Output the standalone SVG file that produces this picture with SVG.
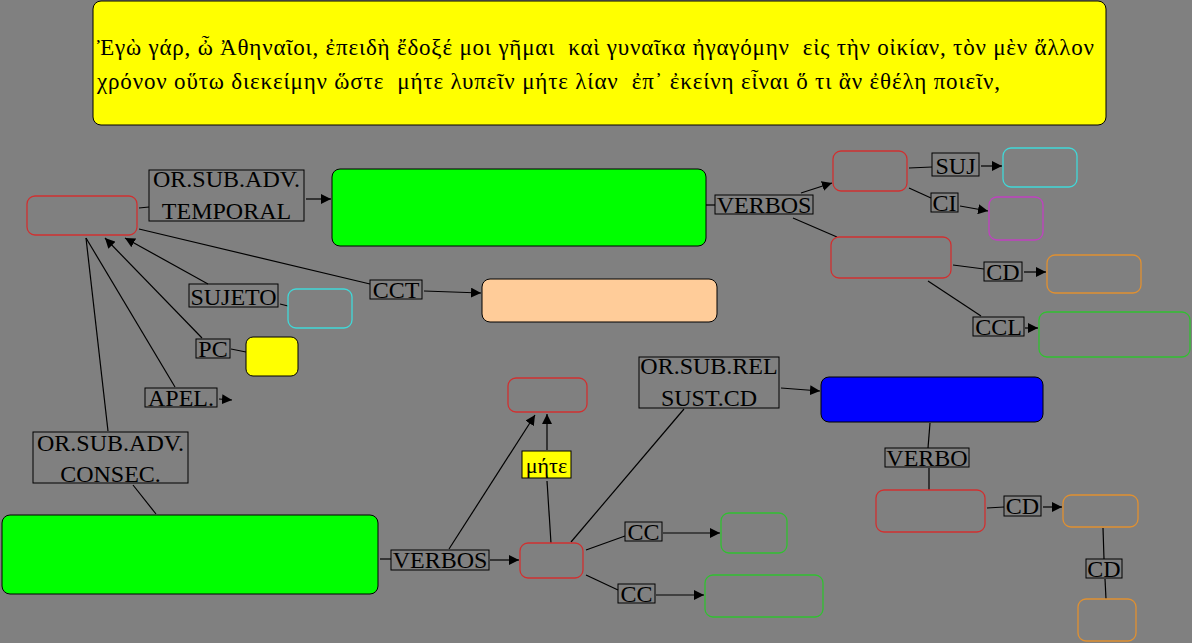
<svg xmlns="http://www.w3.org/2000/svg" width="1192" height="643" viewBox="0 0 1192 643">
<defs>
<marker id="ar" viewBox="0 0 10 10" refX="10" refY="5" markerWidth="10" markerHeight="10" markerUnits="userSpaceOnUse" orient="auto">
<path d="M0,0 L10,5 L0,10 z" fill="#000"/>
</marker>
<style>
.bg{fill:#808080}
.lbl rect{fill:none;stroke:#000;stroke-width:1}
.lbl text{font-family:"Liberation Serif","DejaVu Serif",serif;font-size:24px;fill:#000;text-anchor:middle}
.n{fill:none;stroke-width:1.3}
.red{stroke:#d03030}
.cyan{stroke:#40d8d8}
.mag{stroke:#c040c0}
.org{stroke:#e09030}
.grn{stroke:#30c030}
.solid{stroke:#000;stroke-width:1}
.c line,.c path{stroke:#000;stroke-width:1.2;fill:none}
.a{marker-end:url(#ar)}
.title{font-family:"Liberation Serif","DejaVu Serif",serif;font-size:23px;fill:#000;white-space:pre}
</style>
</defs>
<rect class="bg" x="0" y="0" width="1192" height="643"/>

<g id="title">
<rect x="93" y="1" width="1013" height="124" rx="8" fill="#ffff00" stroke="#000" stroke-width="1"/>
<text class="title" x="97" y="55" xml:space="preserve" textLength="997" lengthAdjust="spacing">Ἐγὼ γάρ, ὦ Ἀθηναῖοι, ἐπειδὴ ἔδοξέ μοι γῆμαι  καὶ γυναῖκα ἠγαγόμην  εἰς τὴν οἰκίαν, τὸν μὲν ἄλλον</text>
<text class="title" x="97" y="89" xml:space="preserve" textLength="903" lengthAdjust="spacing">χρόνον οὕτω διεκείμην ὥστε  μήτε λυπεῖν μήτε λίαν  ἐπ᾽ ἐκείνη εἶναι ὅ τι ἂν ἐθέλη ποιεῖν,</text>
</g>

<g class="c" id="connectors">
<line x1="139" y1="208" x2="149" y2="207"/>
<line class="a" x1="306" y1="199" x2="331" y2="199"/>
<line x1="706" y1="205" x2="715" y2="205"/>
<line class="a" x1="801" y1="193" x2="832" y2="183"/>
<line x1="909" y1="168" x2="932" y2="167"/>
<line class="a" x1="981" y1="166" x2="1002" y2="166"/>
<line x1="909" y1="188" x2="931" y2="198"/>
<line class="a" x1="960" y1="206" x2="988" y2="211"/>
<line x1="793" y1="218" x2="837" y2="237"/>
<line x1="953" y1="265" x2="984" y2="269"/>
<line class="a" x1="1024" y1="272" x2="1046" y2="272"/>
<line x1="928" y1="281" x2="981" y2="316"/>
<line class="a" x1="1025" y1="328" x2="1038" y2="328"/>
<line x1="139" y1="229" x2="370" y2="284"/>
<line class="a" x1="424" y1="291" x2="481" y2="293"/>
<line class="a" x1="208" y1="284" x2="125" y2="238"/>
<line x1="280" y1="304" x2="288" y2="306"/>
<line class="a" x1="202" y1="338" x2="105" y2="238"/>
<line x1="231" y1="349" x2="246" y2="352"/>
<line x1="175" y1="387" x2="86" y2="238"/>
<line class="a" x1="219" y1="399" x2="232" y2="400"/>
<line x1="86" y1="238" x2="108" y2="431"/>
<line x1="133" y1="485" x2="156" y2="514"/>
<line x1="380" y1="559" x2="391" y2="559"/>
<line class="a" x1="490" y1="560" x2="519" y2="560"/>
<line class="a" x1="449" y1="549" x2="535" y2="415"/>
<line class="a" x1="547" y1="450" x2="547" y2="414"/>
<line x1="551" y1="543" x2="547" y2="481"/>
<line x1="571" y1="542" x2="684" y2="409"/>
<line class="a" x1="781" y1="388" x2="820" y2="391"/>
<line x1="930" y1="423" x2="928" y2="448"/>
<line x1="929" y1="468" x2="929" y2="490"/>
<line x1="987" y1="508" x2="1004" y2="507"/>
<line class="a" x1="1043" y1="507" x2="1062" y2="507"/>
<line x1="1103" y1="528" x2="1104" y2="559"/>
<line x1="1105" y1="579" x2="1106" y2="599"/>
<line x1="586" y1="550" x2="625" y2="536"/>
<line class="a" x1="663" y1="533" x2="720" y2="533"/>
<line x1="586" y1="575" x2="618" y2="590"/>
<line class="a" x1="656" y1="595" x2="704" y2="595"/>
</g>

<g id="nodeA"><rect class="n red" x="27" y="196" width="110" height="39" rx="8"/></g>
<g id="lblTemporal" class="lbl"><rect x="149" y="170" width="155" height="51"/><text x="226.5" y="187">OR.SUB.ADV.</text><text x="226.5" y="219">TEMPORAL</text></g>
<g id="green1"><rect class="solid" x="332" y="169" width="374" height="77" rx="8" fill="#00ff00"/></g>
<g id="lblVerbos1" class="lbl"><rect x="715" y="195" width="98" height="19"/><text x="764" y="213">VERBOS</text></g>
<g id="nodeB"><rect class="n red" x="833" y="151" width="74" height="40" rx="8"/></g>
<g id="lblSuj" class="lbl"><rect x="932" y="153" width="47" height="23"/><text x="955.5" y="174">SUJ</text></g>
<g id="cyan1"><rect class="n cyan" x="1003" y="148" width="74" height="39" rx="8"/></g>
<g id="lblCI" class="lbl"><rect x="931" y="193" width="27" height="19"/><text x="944.5" y="211">CI</text></g>
<g id="mag1"><rect class="n mag" x="989" y="197" width="54" height="43" rx="8"/></g>
<g id="nodeC"><rect class="n red" x="831" y="237" width="120" height="41" rx="8"/></g>
<g id="lblCD1" class="lbl"><rect x="984" y="262" width="38" height="19"/><text x="1003" y="280">CD</text></g>
<g id="org1"><rect class="n org" x="1047" y="255" width="94" height="38" rx="8"/></g>
<g id="lblCCL" class="lbl"><rect x="973" y="317" width="51" height="19"/><text x="998.5" y="335">CCL</text></g>
<g id="grnO1"><rect class="n grn" x="1039" y="312" width="151" height="45" rx="8"/></g>
<g id="lblCCT" class="lbl"><rect x="370" y="280" width="52" height="19"/><text x="396" y="298">CCT</text></g>
<g id="peach"><rect class="solid" x="482" y="279" width="235" height="43" rx="8" fill="#ffcc99"/></g>
<g id="lblSujeto" class="lbl"><rect x="189" y="284" width="89" height="23"/><text x="233.5" y="305">SUJETO</text></g>
<g id="cyan2"><rect class="n cyan" x="288" y="289" width="64" height="39" rx="8"/></g>
<g id="lblPC" class="lbl"><rect x="196" y="339" width="34" height="19"/><text x="213" y="357">PC</text></g>
<g id="yellow1"><rect class="solid" x="246" y="337" width="52" height="39" rx="7" fill="#ffff00"/></g>
<g id="lblApel" class="lbl"><rect x="145" y="388" width="72" height="19"/><text x="181" y="406">APEL.</text></g>
<g id="lblConsec" class="lbl"><rect x="33" y="432" width="155" height="51"/><text x="110.5" y="451">OR.SUB.ADV.</text><text x="110.5" y="482">CONSEC.</text></g>
<g id="green2"><rect class="solid" x="2" y="515" width="376" height="79" rx="8" fill="#00ff00"/></g>
<g id="lblVerbos2" class="lbl"><rect x="391" y="550" width="98" height="20"/><text x="440" y="568">VERBOS</text></g>
<g id="nodeD"><rect class="n red" x="520" y="543" width="63" height="35" rx="8"/></g>
<g id="nodeE"><rect class="n red" x="508" y="378" width="79" height="34" rx="8"/></g>
<g id="lblMete" class="lbl"><rect x="522" y="451" width="49" height="27" style="fill:#ffff00"/><text x="546.5" y="473" style="font-size:22px">μήτε</text></g>
<g id="lblRel" class="lbl"><rect x="639" y="357" width="140" height="51"/><text x="709" y="374">OR.SUB.REL</text><text x="709" y="406">SUST.CD</text></g>
<g id="blue1"><rect class="solid" x="821" y="377" width="222" height="45" rx="8" fill="#0000ff"/></g>
<g id="lblVerbo" class="lbl"><rect x="885" y="448" width="84" height="19"/><text x="927" y="466">VERBO</text></g>
<g id="nodeF"><rect class="n red" x="876" y="490" width="109" height="42" rx="8"/></g>
<g id="lblCD2" class="lbl"><rect x="1004" y="496" width="37" height="20"/><text x="1022.5" y="514">CD</text></g>
<g id="org2"><rect class="n org" x="1063" y="495" width="75" height="32" rx="8"/></g>
<g id="lblCD3" class="lbl"><rect x="1086" y="559" width="36" height="19"/><text x="1104" y="577">CD</text></g>
<g id="org3"><rect class="n org" x="1078" y="599" width="58" height="42" rx="8"/></g>
<g id="lblCC1" class="lbl"><rect x="625" y="522" width="37" height="19"/><text x="643.5" y="540">CC</text></g>
<g id="grnO2"><rect class="n grn" x="721" y="513" width="66" height="40" rx="8"/></g>
<g id="lblCC2" class="lbl"><rect x="618" y="584" width="37" height="19"/><text x="636.5" y="602">CC</text></g>
<g id="grnO3"><rect class="n grn" x="705" y="575" width="118" height="42" rx="8"/></g>
</svg>
